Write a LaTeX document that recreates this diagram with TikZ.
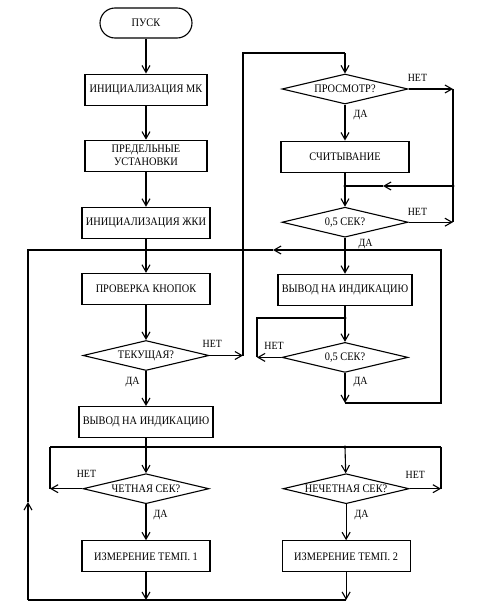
\documentclass[tikz,border=0pt]{standalone}
\usepackage{fontspec}
\setmainfont{Liberation Serif}[FakeStretch=0.9]
\usetikzlibrary{shapes.geometric, positioning, arrows.meta}

\begin{document}
\begin{tikzpicture}[
    x=1pt, y=-1pt,
    ->, >={Straight Barb[length=7pt,width=8pt]}, line width=1.1pt,
    every node/.style={font=\fontsize{11.5}{13}\selectfont},
    proc/.style={draw, rectangle, minimum width=128pt, minimum height=31pt, align=center, inner sep=2pt},
    term/.style={draw, rectangle, rounded corners=15pt, minimum width=92pt, minimum height=30pt},
    decis/.style={draw, diamond, aspect=4.2, inner sep=0pt, minimum width=126pt, minimum height=30pt},
    lbl/.style={font=\fontsize{11}{13}\selectfont, inner sep=1pt}
]
    \useasboundingbox (0,0) rectangle (487,608);

    % Main column
    \node[term] (pusk) at (146,23) {ПУСК};
    \node[proc, minimum width=122pt, below=35pt of pusk] (initmk) {ИНИЦИАЛИЗАЦИЯ МК};
    \node[proc, minimum width=122pt, below=34pt of initmk] (limits) {ПРЕДЕЛЬНЫЕ\\УСТАНОВКИ};
    \node[proc, below=35pt of limits] (initlcd) {ИНИЦИАЛИЗАЦИЯ ЖКИ};
    \node[proc, below=34pt of initlcd] (buttons) {ПРОВЕРКА КНОПОК};
    \node[decis, below=35pt of buttons] (current) {ТЕКУЩАЯ?};
    \node[proc, minimum width=134pt, below=35pt of current] (showl) {ВЫВОД НА ИНДИКАЦИЮ};
    \node[decis, below=35pt of showl] (even) {ЧЕТНАЯ СЕК?};
    \node[proc, below=36pt of even] (temp1) {ИЗМЕРЕНИЕ ТЕМП. 1};

    % Viewing column
    \node[decis] (view) at (345,89) {ПРОСМОТР?};
    \node[proc, below=36pt of view] (readout) {СЧИТЫВАНИЕ};
    \node[decis, below=34pt of readout] (sec1) {0,5 СЕК?};
    \node[proc, minimum width=134pt, below=36pt of sec1] (showr) {ВЫВОД НА ИНДИКАЦИЮ};
    \node[decis, below=36pt of showr] (sec2) {0,5 СЕК?};
    \node[decis, right=73pt of even] (odd) {НЕЧЕТНАЯ СЕК?};
    \node[proc, below=36pt of odd] (temp2) {ИЗМЕРЕНИЕ ТЕМП. 2};

    % Junctions and bends
    \coordinate (j1) at (146,250);
    \coordinate (j2) at (146,447);
    \coordinate (j3) at (345,447);
    \coordinate (j4) at (345,186);
    \coordinate (j6) at (345,318);
    \coordinate (rt) at (453,186);
    \coordinate (up) at (243,53);
    \coordinate (lt) at (257,318);
    \coordinate (ll) at (50,447);
    \coordinate (rl) at (441,447);
    \coordinate (rr) at (441,403);
    \coordinate (bl) at (28,600);
    \coordinate (lup) at (28,502);
    \coordinate (mid1) at (273,250);
    \coordinate (mid2) at (383,186);

    % Main flow
    \draw (pusk) -- (initmk);
    \draw (initmk) -- (limits);
    \draw (limits) -- (initlcd);
    \draw[-] (initlcd) -- (j1);
    \draw (j1) -- (buttons);
    \draw (buttons) -- (current);
    \draw (current) -- node[lbl, left=5pt, pos=0.3] {ДА} (showl);
    \draw (current.east) -- node[lbl, above=6pt, pos=0.08] {НЕТ} (current -| up);
    \draw[-] (current -| up) -- (up) -- (up -| view);
    \draw (up -| view) -- (view);
    \draw[-] (showl) -- (j2);

    % Viewing
    \draw (view) -- node[lbl, right=7pt, pos=0.3] {ДА} (readout);
    \draw (view.east) -- node[lbl, above=6pt, pos=0.2] {НЕТ} (view -| rt);
    \draw[-] (view -| rt) -- (sec1 -| rt);
    \draw[-] (readout) -- (j4);
    \draw (j4) -- (sec1);
    \draw (rt) -- (mid2);
    \draw[-] (mid2) -- (j4);
    \draw (sec1.east) -- node[lbl, above=5pt, pos=0.2] {НЕТ} (sec1 -| rt);
    \draw (sec1) -- node[lbl, right=12pt, pos=0.17] {ДА} (showr);
    \draw[-] (showr) -- (j6);
    \draw (j6) -- (sec2);
    \draw (sec2.west) -- node[lbl, above=6pt, pos=0.3] {НЕТ} (sec2 -| lt);
    \draw[-] (sec2 -| lt) -- (lt) -- (j6);
    \draw (sec2) -- node[lbl, right=7pt, pos=0.3] {ДА} (sec2 |- rr);
    \draw (sec2 |- rr) -- (rr) -- (rr |- j1) -- (mid1);
    \draw[-] (mid1) -- (j1);

    % Seconds
    \draw[-] (ll) -- (rl);
    \draw (j2) -- (even);
    \draw (j3) -- (odd);
    \draw (even.west) -- node[lbl, above=10pt, at start, xshift=4pt] {НЕТ} (even -| ll);
    \draw[-] (even -| ll) -- (ll);
    \draw (odd.east) -- node[lbl, above=9pt, pos=0.18] {НЕТ} (odd -| rl);
    \draw[-] (odd -| rl) -- (rl);
    \draw (even) -- node[lbl, right=6pt, pos=0.3] {ДА} (temp1);
    \draw (odd) -- node[lbl, right=7pt, pos=0.3] {ДА} (temp2);

    % Back to start of loop
    \draw (temp1) -- (temp1 |- bl);
    \draw (temp2) -- (temp2 |- bl);
    \draw[-] (temp2 |- bl) -- (bl);
    \draw (bl) -- (lup);
    \draw[-] (lup) -- (bl |- j1) -- (j1);

    % Dots
    \foreach \j in {j1, j2, j3, j4, j6, rt}
        \fill (\j) circle[radius=1.7pt];
\end{tikzpicture}
\end{document}
